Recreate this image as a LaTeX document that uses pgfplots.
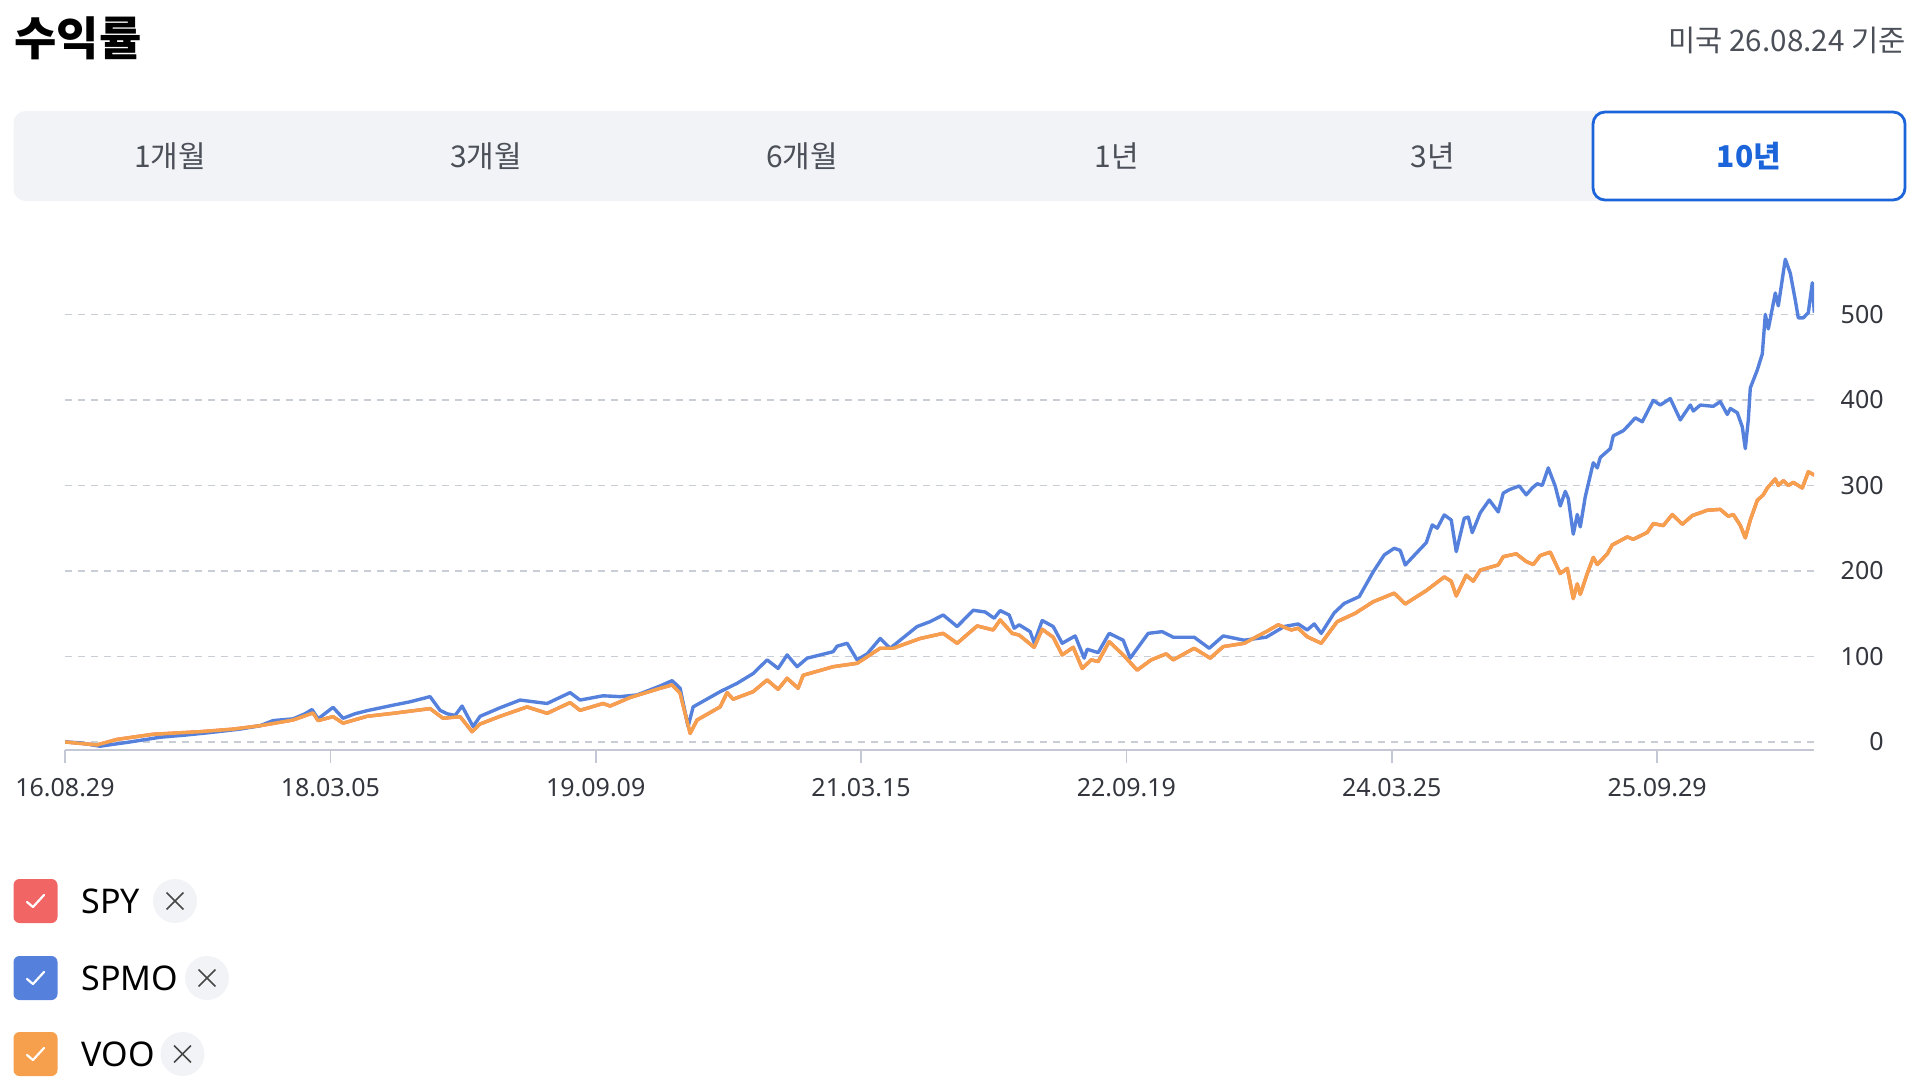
\documentclass[border=0pt]{standalone}
\usepackage{fontspec}
\setmainfont{Noto Sans}
\newfontfamily\kr{Noto Sans CJK KR}
\usepackage{pgfplots}
\pgfplotsset{compat=1.18}
\usepackage{pgfplotstable}
\definecolor{spmo}{HTML}{5581DD}
\definecolor{voo}{HTML}{F6A04D}
\definecolor{spy}{HTML}{F26565}
\definecolor{gridc}{HTML}{C9CDD5}
\definecolor{axisc}{HTML}{C3C8D4}
\definecolor{tabbg}{HTML}{F2F3F6}
\definecolor{tabblue}{HTML}{1B64DA}
\definecolor{txt}{HTML}{33363D}
\definecolor{tabtxt}{HTML}{4B4F58}

% p = horizontal position (pixels), v = return (%)
\pgfplotstableread{
p v
65 0
80 -1
100 -5
130 0
160 5.5
185 8
210 11
240 15
260 19
273 25
293 27
305 33
312 38
318 27
333 40.5
343 27.7
355 33
367 36.6
393 43
410 47
430 53
440 37
447 33
455 31
462 42
473 18
480 30
500 40
520 49
547 45
570 57.7
580 49
603 54
620 53
637 55
660 65.5
672 71.7
680 62.8
688 18
693 41
720 58.8
737 68.6
753 80
767 96
778 86
787 101.8
797 88
807 98
833 105.6
837 112
847 115.4
857 96
867 103
880 121
890 109.6
917 135
930 140.7
943 148.5
957 135
973 154
985 152
994 144.7
1000 153.6
1009 148.5
1014 133
1019 137
1030 129
1034 116
1042 142
1053 135
1062 115.4
1075 124
1084 98
1087 108.4
1098 104.5
1109 127
1123 119
1130 98
1148 127
1162 129
1173 122.5
1194 122.5
1209 109.6
1223 124
1244 119
1266 122.5
1284 135
1298 138
1307 131
1314 138
1321 127
1334 151
1344 162
1359 170
1373 199
1384 218.7
1394 226.5
1400 224
1405 207
1416 220.7
1426 233
1432 253.8
1437 250
1444 265.5
1451 259.6
1456 222.6
1464 261.6
1468 263
1472 244.8
1480 268
1489 283
1498 269
1503 291
1509 295
1519 299.4
1526 289
1532 297
1537 302
1542 300
1548 320.5
1555 299
1560 276
1565 293
1568 284.7
1573 243
1577 266
1580 251.5
1585 286.8
1593 326.5
1597 320.5
1600 332.7
1610 343
1613 358
1623 364
1628 370
1635 379
1642 374.5
1653 399.5
1660 394
1670 401.6
1680 376.6
1690 394
1693 387
1700 394
1713 392.5
1720 398
1727 383
1730 390
1737 385
1742 368.4
1745 343
1748 376.6
1750 414
1757 435
1762 453.8
1765 500
1768 483
1775 525
1778 510
1785 564.5
1790 548
1795 516.5
1798 496
1803 496
1808 502
1812 537
1814 502
}\spmodata

\pgfplotstableread{
p v
65 0
97 -3.5
117 3
153 9
200 12
233 15
260 19
293 25.7
313 34
318 25
333 29.6
343 22
367 30
393 33.5
430 39
443 27.7
460 29.6
472 12
480 21
500 30
527 41
547 33.5
570 46
580 37
603 45
610 42
630 52
660 62.8
672 66.7
680 57
690 10
697 25.7
720 41
727 57.7
733 50
753 58.8
767 72.5
778 61.6
787 74.5
798 62.8
803 78
833 88
857 92
880 109.6
893 109.6
920 121
943 127
957 115.4
977 135.7
993 131
1000 142.7
1012 127
1019 125
1034 110.7
1042 131.8
1053 122.5
1062 101.8
1073 110.7
1082 86
1091 96
1098 94
1109 117.3
1123 101.8
1137 84
1151 96
1166 103
1173 96
1194 109.6
1210 98
1223 111.5
1244 115.4
1266 129
1278 137
1291 131
1298 133
1307 123
1321 115.4
1337 140.7
1355 150.5
1373 164
1394 174
1405 161.4
1426 177
1444 193
1451 188
1456 170.8
1466 195
1473 188
1480 201
1498 207
1503 216.7
1516 220
1526 211
1533 207.5
1540 218
1550 222
1560 197
1567 203
1573 167.7
1577 184.8
1580 172.7
1587 197
1593 215.8
1597 207.5
1607 220
1612 230.4
1627 239.8
1633 237
1647 245
1653 255.4
1663 253
1672 266
1682 254.6
1692 264.7
1707 271
1720 272
1728 263.9
1733 266
1740 253.3
1745 238.7
1750 259.6
1757 282.6
1763 289
1767 297
1775 307.6
1778 300
1783 305.6
1788 300
1793 303.5
1802 297
1808 316
1814 312
}\voodata

\begin{document}
\begin{tikzpicture}
\path[use as bounding box] (0,0) rectangle (960pt,543.5pt);
\begin{scope}[x=0.5pt,y=-0.5pt,shift={(0pt,543.5pt)}]
  % title and date
  \node[anchor=west, font=\kr\bfseries\fontsize{23}{26}\selectfont, text=black, inner sep=0] at (14,38) {수익률};
  \node[anchor=east, font=\kr\fontsize{14.8}{17}\selectfont, text=tabtxt, inner sep=0] at (1906,40) {미국 26.08.24 기준};
  % tab bar
  \fill[tabbg, rounded corners=6pt] (13.5,111) rectangle (1906,201);
  \draw[tabblue, line width=1.4pt, fill=white, rounded corners=6pt] (1593,112) rectangle (1905,200);
  \foreach \cx/\lab in {170/1개월,486/3개월,802/6개월,1117/1년,1433/3년}{
    \node[font=\kr\fontsize{15}{18}\selectfont, text=tabtxt, inner sep=0] at (\cx,156) {\lab};
  }
  \node[font=\kr\bfseries\fontsize{15}{18}\selectfont, text=tabblue, inner sep=0] at (1749,156) {10년};
  % legend
  \foreach \yy/\col/\lab/\cxx in {901/spy/SPY/175,978/spmo/SPMO/207,1054/voo/VOO/182.5}{
    \fill[\col, rounded corners=3pt] (13.5,\yy-22) rectangle (57.5,\yy+22);
    \draw[white, line width=1.1pt, line cap=round, line join=round] (27,\yy+1) -- (33,\yy+6) -- (44,\yy-6);
    \node[anchor=west, font=\fontsize{17}{20}\selectfont, text=black, inner sep=0] at (81,\yy) {\lab};
    \fill[tabbg] (\cxx,\yy) circle[radius=11pt];
    \draw[black!72, line width=0.8pt] (\cxx,\yy) ++(-4.2pt,-4.2pt) -- ++(8.4pt,8.4pt);
    \draw[black!72, line width=0.8pt] (\cxx,\yy) ++(-4.2pt,4.2pt) -- ++(8.4pt,-8.4pt);
  }
\end{scope}

\begin{axis}[
  at={(32.5pt,168.5pt)}, anchor=south west,
  scale only axis, width=874.5pt, height=252pt,
  xmin=0, xmax=3645, ymin=-9.4, ymax=580,
  axis x line*=bottom, axis y line*=right,
  x axis line style={draw=axisc, line width=1pt, -},
  y axis line style={draw=none},
  xtick={0,553,1106,1659,2212,2765,3318},
  xticklabels={16.08.29,18.03.05,19.09.09,21.03.15,22.09.19,24.03.25,25.09.29},
  xtick align=outside, xtick style={draw=axisc, line width=0.8pt},
  major tick length=6.5pt,
  ytick={0,100,200,300,400,500}, ytick style={draw=none},
  ymajorgrids, grid style={gridc, dash pattern=on 3.5pt off 3pt, line width=0.7pt},
  /pgf/number format/assume math mode=true,
  xticklabel style={font=\fontsize{12.5}{15}\selectfont, text=txt, anchor=north, yshift=-4pt},
  yticklabel style={font=\fontsize{12.5}{15}\selectfont, text=txt, anchor=east, inner sep=0pt, xshift=35pt},
]
\addplot[spy, line width=1.7pt, line join=round] table[x expr=(\thisrow{p}-65)*2.0844, y=v] {\voodata};
\addplot[spmo, line width=1.7pt, line join=round] table[x expr=(\thisrow{p}-65)*2.0844, y=v] {\spmodata};
\addplot[voo, line width=1.7pt, line join=round] table[x expr=(\thisrow{p}-65)*2.0844, y=v] {\voodata};
\end{axis}
\end{tikzpicture}
\end{document}
